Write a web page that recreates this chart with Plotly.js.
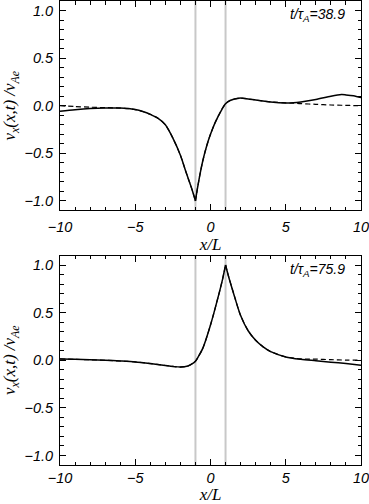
<!DOCTYPE html>
<html>
<head>
<meta charset="utf-8">
<script src="https://cdn.plot.ly/plotly-3.0.1.min.js"></script>
<style>
  html, body { margin: 0; padding: 0; background: #fff; }
  #grafica { width: 369px; height: 504px; }
</style>
</head>
<body>
<div id="grafica"></div>
<script>
// Panel superior, t/tA = 38.9
const xSup = [-10, -9, -8, -7, -6, -5, -4.5, -4, -3.5, -3, -2.5, -2, -1.6, -1.25, -1, -0.9, -0.7, -0.5, -0.25, 0, 0.3, 0.75, 1, 1.3, 1.9, 2.5, 3, 4, 5, 5.5, 6, 7, 8, 8.7, 9, 9.5, 10];
const vSup = [-0.058, -0.042, -0.03, -0.024, -0.024, -0.04, -0.06, -0.09, -0.13, -0.2, -0.34, -0.52, -0.71, -0.87, -1.0, -0.90, -0.72, -0.57, -0.42, -0.30, -0.18, -0.04, 0.02, 0.055, 0.08, 0.072, 0.06, 0.04, 0.03, 0.032, 0.04, 0.065, 0.1, 0.117, 0.114, 0.105, 0.085];
const vSupRef = [0.0, -0.008, -0.015, -0.02, -0.024, -0.04, -0.06, -0.09, -0.13, -0.2, -0.34, -0.52, -0.71, -0.87, -1.0, -0.90, -0.72, -0.57, -0.42, -0.30, -0.18, -0.04, 0.02, 0.055, 0.08, 0.072, 0.06, 0.04, 0.03, 0.028, 0.022, 0.015, 0.008, 0.005, 0.004, 0.002, 0.0];
const picoSup = 14; // índice del mínimo en x = -1

// Panel inferior, t/tA = 75.9
const xInf = [-10, -9, -8, -7, -6, -5, -4, -3, -2.5, -2, -1.5, -1.2, -1, -0.8, -0.5, 0, 0.5, 0.8, 1, 1.2, 1.5, 2, 2.5, 3, 3.5, 4, 5, 6, 7, 8, 9, 10];
const vInf = [0.014, 0.01, 0.005, 0.0, -0.008, -0.018, -0.035, -0.055, -0.065, -0.072, -0.06, -0.035, -0.01, 0.04, 0.13, 0.37, 0.66, 0.85, 1.0, 0.88, 0.72, 0.47, 0.31, 0.21, 0.14, 0.09, 0.035, 0.01, -0.005, -0.02, -0.035, -0.052];
const vInfRef = [0.014, 0.01, 0.005, 0.0, -0.008, -0.018, -0.035, -0.055, -0.065, -0.072, -0.06, -0.035, -0.01, 0.04, 0.13, 0.37, 0.66, 0.85, 1.0, 0.88, 0.72, 0.47, 0.31, 0.21, 0.14, 0.09, 0.035, 0.015, 0.012, 0.006, 0.002, 0.0];
const picoInf = 18; // índice del máximo en x = 1

const bordesTubo = [-1, 1];
const tiempos = ["38.9", "75.9"];

const fuenteTicks = { family: "Liberation Sans, Arial, sans-serif", size: 14.5, style: "italic", color: "#000" };
const fuenteTitulo = { family: "Liberation Serif, serif", size: 17, style: "italic", color: "#000" };

function ejeX(anchor, standoffEtiq, standoffTit) {
    return {
        anchor, range: [-10, 10], dtick: 5, ticks: "inside", ticklen: 6, tickwidth: 1,
        tickcolor: "#000", showline: true, linecolor: "#000", linewidth: 1, mirror: "allticks",
        showgrid: false, zeroline: false, tickfont: fuenteTicks, ticklabelstandoff: standoffEtiq,
        ticklabeloverflow: "allow",
        minor: { dtick: 1, ticks: "inside", ticklen: 3.5, tickwidth: 1, tickcolor: "#000", showgrid: false },
        title: { text: "<i>x/L</i>", font: fuenteTitulo, standoff: standoffTit }
    };
}

function ejeY(anchor, domain) {
    return {
        anchor, domain, range: [-1.1, 1.1], dtick: 0.5, tickformat: ".1f",
        ticks: "inside", ticklen: 6, tickwidth: 1, tickcolor: "#000", showline: true, linecolor: "#000", linewidth: 1,
        mirror: "allticks", showgrid: false, zeroline: false, tickfont: fuenteTicks, ticklabelstandoff: 3,
        minor: { dtick: 0.1, ticks: "inside", ticklen: 3.5, tickwidth: 1, tickcolor: "#000", showgrid: false },
        title: { text: "<i>v<sub>x</sub>(x,t) /v<sub>Ae</sub></i>", font: fuenteTitulo, standoff: 4 }
    };
}

// Curva suave a cada lado del pico, sin redondear el pico
function tramos(x, y, pico, ex, ey, linea) {
    return [[0, pico + 1], [pico, x.length]].map(([a, b]) => ({
        x: x.slice(a, b), y: y.slice(a, b), xaxis: ex, yaxis: ey, mode: "lines",
        line: Object.assign({ shape: "spline", smoothing: 0.8 }, linea)
    }));
}

const solida = { color: "#000", width: 1.5 };
const rayada = { color: "#000", width: 1.2, dash: "5px,3px" };

const trazas = [
    ...tramos(xSup, vSupRef, picoSup, "x", "y", rayada),
    ...tramos(xSup, vSup, picoSup, "x", "y", solida),
    ...tramos(xInf, vInfRef, picoInf, "x2", "y2", rayada),
    ...tramos(xInf, vInf, picoInf, "x2", "y2", solida)
];

// Líneas grises en los bordes del tubo
const formas = [];
["x", "x2"].forEach((ex, i) => {
    const ey = i === 0 ? "y" : "y2";
    bordesTubo.forEach(b => {
        formas.push({ type: "line", xref: ex, yref: ey + " domain", x0: b, x1: b, y0: 0, y1: 1,
            line: { color: "#c8c8c8", width: 2 }, layer: "below" });
    });
});

const anotaciones = tiempos.map((t, i) => ({
    text: "<i>t/\u03c4<sub>A</sub>=" + t + "</i>",
    xref: (i === 0 ? "x" : "x2") + " domain", yref: (i === 0 ? "y" : "y2") + " domain",
    x: 0.955, y: 0.985, xanchor: "right", yanchor: "top", showarrow: false,
    font: { family: "Liberation Sans, Arial, sans-serif", size: 14, style: "italic", color: "#000" }
}));

Plotly.newPlot("grafica", trazas, {
    width: 369, height: 504,
    margin: { l: 60, r: 8, t: 1, b: 39 },
    paper_bgcolor: "#fff", plot_bgcolor: "#fff",
    showlegend: false,
    xaxis: ejeX("y", 3, 0),
    yaxis: ejeY("x", [0.5485, 1]),
    xaxis2: ejeX("y2", 0, -4),
    yaxis2: ejeY("x2", [0, 0.4515]),
    shapes: formas,
    annotations: anotaciones
}, { staticPlot: true });
</script>
</body>
</html>
